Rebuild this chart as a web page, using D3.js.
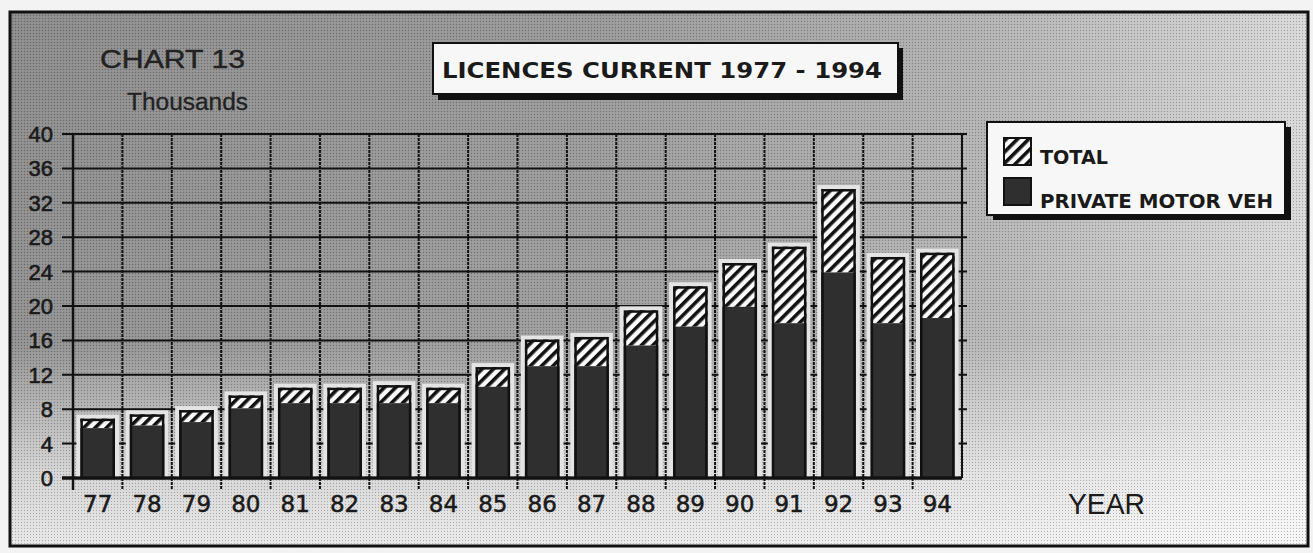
<!DOCTYPE html>
<html>
<head>
<meta charset="utf-8">
<script src="https://cdn.jsdelivr.net/npm/d3@7"></script>
<style>
  html, body { margin: 0; padding: 0; background: #f3f3f3; }
  svg { display: block; }
</style>
</head>
<body>
<svg id="chart" width="1313" height="553"></svg>
<script>
// ---- data ----
const years = ["77","78","79","80","81","82","83","84","85","86","87","88","89","90","91","92","93","94"];
const totalValues   = [6.9, 7.4, 7.9, 9.6, 10.5, 10.5, 10.8, 10.5, 12.9, 16.1, 16.4, 19.5, 22.3, 25.0, 26.9, 33.6, 25.7, 26.2];
const privateValues = [5.8, 6.1, 6.5, 8.1, 8.7, 8.7, 8.7, 8.7, 10.6, 13.0, 13.0, 15.4, 17.6, 19.9, 18.0, 23.9, 18.0, 18.6];
const yTicks = [0, 4, 8, 12, 16, 20, 24, 28, 32, 36, 40];
const legendLabels = ["TOTAL", "PRIVATE MOTOR VEH"];
const titleText = "LICENCES CURRENT 1977 - 1994";
const chartLabel = "CHART 13";
const unitLabel = "Thousands";
const xAxisLabel = "YEAR";

const svg = d3.select("#chart");
const defs = svg.append("defs");

// background gradients
const bg = defs.append("linearGradient").attr("id", "bgGrad")
  .attr("x1", "0").attr("y1", "0").attr("x2", "1").attr("y2", "0");
bg.append("stop").attr("offset", "0").attr("stop-color", "#8a8a8a");
bg.append("stop").attr("offset", "0.45").attr("stop-color", "#989898");
bg.append("stop").attr("offset", "0.75").attr("stop-color", "#b2b2b2");
bg.append("stop").attr("offset", "1").attr("stop-color", "#d8d8d8");

const fade = defs.append("linearGradient").attr("id", "fadeGrad")
  .attr("x1", "0").attr("y1", "0").attr("x2", "0").attr("y2", "1");
fade.append("stop").attr("offset", "0").attr("stop-color", "#fff").attr("stop-opacity", 0);
fade.append("stop").attr("offset", "0.62").attr("stop-color", "#fff").attr("stop-opacity", 0.05);
fade.append("stop").attr("offset", "0.86").attr("stop-color", "#fff").attr("stop-opacity", 0.62);
fade.append("stop").attr("offset", "1").attr("stop-color", "#fff").attr("stop-opacity", 0.8);

// halftone dither
const dot = defs.append("pattern").attr("id", "dither")
  .attr("patternUnits", "userSpaceOnUse").attr("width", 3).attr("height", 3);
dot.append("rect").attr("width", 1).attr("height", 1).attr("fill", "#000").attr("opacity", 0.25);
dot.append("rect").attr("x", 1.5).attr("y", 1.5).attr("width", 1).attr("height", 1).attr("fill", "#fff").attr("opacity", 0.25);

// hatch pattern
const hatch = defs.append("pattern").attr("id", "hatch")
  .attr("patternUnits", "userSpaceOnUse").attr("width", 8).attr("height", 8)
  .attr("patternTransform", "rotate(45)");
hatch.append("rect").attr("width", 8).attr("height", 8).attr("fill", "#fafafa");
hatch.append("rect").attr("width", 3.6).attr("height", 8).attr("fill", "#111");

// ---- frame and background ----
svg.append("rect").attr("x", 10).attr("y", 12).attr("width", 1298).attr("height", 534)
  .attr("fill", "url(#bgGrad)");
svg.append("rect").attr("x", 10).attr("y", 12).attr("width", 1298).attr("height", 534)
  .attr("fill", "url(#fadeGrad)");
svg.append("rect").attr("x", 10).attr("y", 12).attr("width", 1298).attr("height", 534)
  .attr("fill", "url(#dither)");

// ---- scales ----
const x = d3.scaleBand().domain(years).range([73, 962]).paddingInner(0.3).paddingOuter(0.15);
const y = d3.scaleLinear().domain([0, 40]).range([478, 134]);
const step = x.step();
const x0 = x.range()[0];

// ---- grid ----
const grid = svg.append("g");
grid.selectAll("line.h").data(yTicks).join("line")
  .attr("x1", 62).attr("x2", d => d === 0 ? 962 : 967)
  .attr("y1", d => y(d)).attr("y2", d => y(d))
  .attr("stroke", "#111").attr("stroke-width", d => d === 0 ? 3 : 2);
const bounds = d3.range(years.length + 1).map(i => x0 + i * step);
grid.selectAll("line.v").data(bounds).join("line")
  .attr("x1", d => d).attr("x2", d => d)
  .attr("y1", y(40)).attr("y2", (d, i) => i === years.length ? y(0) : 490)
  .attr("stroke", "#111").attr("stroke-width", (d, i) => i === 0 ? 2.5 : 2)
  .attr("stroke-dasharray", (d, i) => (i === 0 || i === years.length) ? null : "3,1");

// ---- bars ----
const data = years.map((yr, i) => ({ yr, total: totalValues[i], priv: privateValues[i] }));
const bars = svg.append("g");
// light halo
bars.selectAll("rect.halo").data(data).join("rect")
  .attr("x", d => x(d.yr) - 4).attr("width", x.bandwidth() + 8)
  .attr("y", d => y(d.total) - 4).attr("height", d => y(0) - y(d.total) + 2.5)
  .attr("fill", "#e4e4e4");
bars.selectAll("rect.hat").data(data).join("rect")
  .attr("x", d => x(d.yr)).attr("width", x.bandwidth())
  .attr("y", d => y(d.total)).attr("height", d => y(d.priv) - y(d.total))
  .attr("fill", "url(#hatch)");
bars.selectAll("rect.priv").data(data).join("rect")
  .attr("x", d => x(d.yr)).attr("width", x.bandwidth())
  .attr("y", d => y(d.priv)).attr("height", d => y(0) - y(d.priv))
  .attr("fill", "#2f2f2f");
bars.selectAll("rect.outline").data(data).join("rect")
  .attr("x", d => x(d.yr) + 1.25).attr("width", x.bandwidth() - 2.5)
  .attr("y", d => y(d.total) + 1.25).attr("height", d => y(0) - y(d.total) - 1.25)
  .attr("fill", "none").attr("stroke", "#111").attr("stroke-width", 2.5);

// axis base line again on top
svg.append("line").attr("x1", 62).attr("x2", 962).attr("y1", y(0)).attr("y2", y(0))
  .attr("stroke", "#111").attr("stroke-width", 3);

// ---- axis labels ----
svg.append("g").selectAll("text").data(yTicks).join("text")
  .attr("x", 53).attr("y", d => y(d) + 8)
  .attr("text-anchor", "end")
  .attr("font-family", "Liberation Sans, Arial, sans-serif")
  .attr("font-size", 22).attr("fill", "#1a1a1a")
  .attr("stroke", "#1a1a1a").attr("stroke-width", 0.6)
  .text(d => d);

svg.append("g").selectAll("text").data(years).join("text")
  .attr("x", d => x(d) + x.bandwidth() / 2).attr("y", 512)
  .attr("text-anchor", "middle")
  .attr("font-family", "DejaVu Sans, sans-serif")
  .attr("font-size", 23).attr("fill", "#1a1a1a")
  .attr("stroke", "#1a1a1a").attr("stroke-width", 0.5)
  .text(d => d);

svg.append("text").attr("x", 1068).attr("y", 514)
  .attr("font-family", "Liberation Sans, Arial, sans-serif")
  .attr("font-size", 29).attr("fill", "#1a1a1a")
  .attr("textLength", 77).attr("lengthAdjust", "spacingAndGlyphs")
  .text(xAxisLabel);

svg.append("text").attr("x", 100).attr("y", 68)
  .attr("font-family", "Liberation Sans, Arial, sans-serif")
  .attr("font-size", 25).attr("fill", "#222")
  .attr("stroke", "#222").attr("stroke-width", 0.4)
  .attr("textLength", 145).attr("lengthAdjust", "spacingAndGlyphs")
  .text(chartLabel);

svg.append("text").attr("x", 127).attr("y", 110)
  .attr("font-family", "Liberation Sans, Arial, sans-serif")
  .attr("font-size", 23).attr("fill", "#222")
  .attr("stroke", "#222").attr("stroke-width", 0.3)
  .attr("textLength", 121).attr("lengthAdjust", "spacingAndGlyphs")
  .text(unitLabel);

// ---- title box ----
svg.append("rect").attr("x", 438).attr("y", 48).attr("width", 465).attr("height", 52).attr("fill", "#111");
svg.append("rect").attr("x", 433).attr("y", 43).attr("width", 465).attr("height", 51)
  .attr("fill", "#f7f7f7").attr("stroke", "#111").attr("stroke-width", 2);
svg.append("text").attr("x", 442).attr("y", 78)
  .attr("font-family", "DejaVu Sans, Verdana, sans-serif").attr("font-weight", "bold")
  .attr("font-size", 22).attr("fill", "#1a1a1a")
  .attr("textLength", 440).attr("lengthAdjust", "spacingAndGlyphs")
  .text(titleText);

// ---- legend ----
svg.append("rect").attr("x", 993).attr("y", 127).attr("width", 298).attr("height", 93).attr("fill", "#111");
svg.append("rect").attr("x", 987).attr("y", 122).attr("width", 298).attr("height", 93)
  .attr("fill", "#f7f7f7").attr("stroke", "#111").attr("stroke-width", 2);
const legendFills = ["url(#hatch)", "#2f2f2f"];
const lg = svg.append("g");
lg.selectAll("rect.sw").data(legendLabels).join("rect")
  .attr("x", 1004).attr("y", (d, i) => 138 + i * 40)
  .attr("width", 27).attr("height", 27)
  .attr("fill", (d, i) => legendFills[i]).attr("stroke", "#111").attr("stroke-width", 2);
lg.selectAll("text").data(legendLabels).join("text")
  .attr("x", 1040).attr("y", (d, i) => 164 + i * 44)
  .attr("font-family", "DejaVu Sans, Verdana, sans-serif").attr("font-weight", "bold")
  .attr("font-size", 20).attr("fill", "#1a1a1a")
  .attr("textLength", (d, i) => i === 0 ? 68 : 233).attr("lengthAdjust", "spacingAndGlyphs")
  .text(d => d);

// ---- outer frame ----
svg.append("rect").attr("x", 10).attr("y", 12).attr("width", 1298).attr("height", 534)
  .attr("fill", "none").attr("stroke", "#111").attr("stroke-width", 3);
</script>
</body>
</html>
